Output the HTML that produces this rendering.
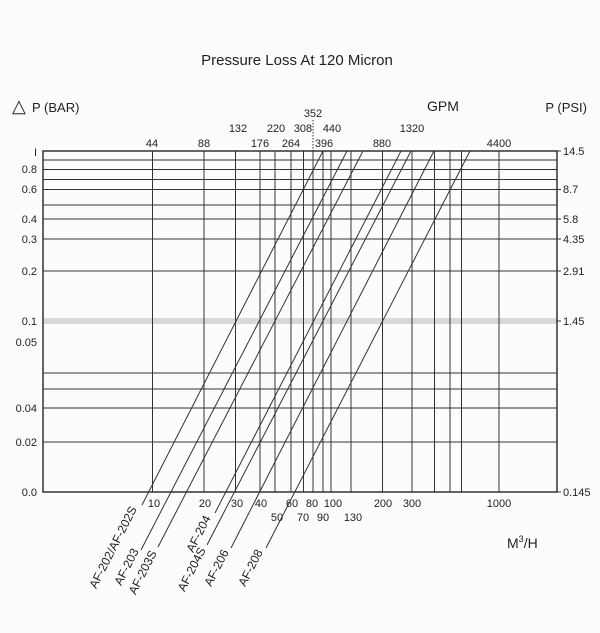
<!DOCTYPE html>
<html><head><meta charset="utf-8"><style>
html,body{margin:0;padding:0;background:#fcfcfc;}
svg{display:block;font-family:"Liberation Sans",sans-serif;}
</style></head><body>
<svg width="600" height="633" viewBox="0 0 600 633" xmlns="http://www.w3.org/2000/svg">
<rect width="600" height="633" fill="#fcfcfc"/>
<text x="297" y="65" font-size="15" text-anchor="middle" fill="#222">Pressure Loss At 120 Micron</text>
<text x="12" y="112" font-size="18" fill="#222">△</text>
<text x="32" y="112" font-size="13" fill="#222">P (BAR)</text>
<text x="443" y="111" font-size="14" text-anchor="middle" fill="#222">GPM</text>
<text x="587" y="112" font-size="13" text-anchor="end" fill="#222">P (PSI)</text>
<rect x="43" y="318" width="514" height="6" fill="#d8d8d8"/>
<g stroke="#333" stroke-width="1" fill="none">
<line x1="43" y1="160" x2="557" y2="160"/>
<line x1="43" y1="169.5" x2="557" y2="169.5"/>
<line x1="43" y1="179.5" x2="557" y2="179.5"/>
<line x1="43" y1="189.5" x2="557" y2="189.5"/>
<line x1="43" y1="205" x2="557" y2="205"/>
<line x1="43" y1="219" x2="557" y2="219"/>
<line x1="43" y1="239" x2="557" y2="239"/>
<line x1="43" y1="271" x2="557" y2="271"/>
<line x1="43" y1="373" x2="557" y2="373"/>
<line x1="43" y1="389" x2="557" y2="389"/>
<line x1="43" y1="408" x2="557" y2="408"/>
<line x1="43" y1="442" x2="557" y2="442"/>
<line x1="152.5" y1="151" x2="152.5" y2="492"/>
<line x1="204" y1="151" x2="204" y2="492"/>
<line x1="235.5" y1="151" x2="235.5" y2="492"/>
<line x1="260" y1="151" x2="260" y2="492"/>
<line x1="275" y1="151" x2="275" y2="492"/>
<line x1="291" y1="151" x2="291" y2="492"/>
<line x1="303.5" y1="151" x2="303.5" y2="492"/>
<line x1="313" y1="151" x2="313" y2="492"/>
<line x1="323" y1="151" x2="323" y2="492"/>
<line x1="331" y1="151" x2="331" y2="492"/>
<line x1="351" y1="151" x2="351" y2="492"/>
<line x1="382.5" y1="151" x2="382.5" y2="492"/>
<line x1="412" y1="151" x2="412" y2="492"/>
<line x1="434.5" y1="151" x2="434.5" y2="492"/>
<line x1="450" y1="151" x2="450" y2="492"/>
<line x1="461.5" y1="151" x2="461.5" y2="492"/>
<line x1="499" y1="151" x2="499" y2="492"/>
<line x1="313" y1="120" x2="313" y2="151" stroke-dasharray="1.5,1.5"/>
<rect x="43" y="151" width="514" height="341" stroke-width="1.5"/>
<line x1="557" y1="151" x2="561" y2="151"/><line x1="557" y1="189.5" x2="561" y2="189.5"/>
<line x1="557" y1="219" x2="561" y2="219"/><line x1="557" y1="239" x2="561" y2="239"/>
<line x1="557" y1="271" x2="561" y2="271"/><line x1="557" y1="321" x2="561" y2="321"/>
<line x1="557" y1="492" x2="561" y2="492"/>
<line x1="323" y1="151" x2="142" y2="505"/>
<line x1="347" y1="151" x2="141" y2="550"/>
<line x1="363" y1="151" x2="158" y2="547"/>
<line x1="401" y1="151" x2="215" y2="513"/>
<line x1="411" y1="151" x2="207" y2="545"/>
<line x1="434" y1="151" x2="231" y2="548"/>
<line x1="470" y1="151" x2="266" y2="548"/>
</g>
<g font-size="11" fill="#222" text-anchor="end">
<text x="37" y="156">I</text><text x="37" y="173">0.8</text><text x="37" y="193">0.6</text>
<text x="37" y="223">0.4</text><text x="37" y="243">0.3</text><text x="37" y="275">0.2</text>
<text x="37" y="325">0.1</text><text x="37" y="346">0.05</text><text x="37" y="412">0.04</text>
<text x="37" y="446">0.02</text><text x="37" y="496">0.0</text>
</g>
<g font-size="11" fill="#222">
<text x="563" y="155">14.5</text><text x="563" y="193">8.7</text><text x="563" y="223">5.8</text>
<text x="563" y="243">4.35</text><text x="563" y="275">2.91</text><text x="563" y="325">1.45</text>
<text x="563" y="496">0.145</text>
</g>
<g font-size="11" fill="#222" text-anchor="middle">
<text x="152" y="147">44</text><text x="204" y="147">88</text><text x="260" y="147">176</text>
<text x="291" y="147">264</text><text x="324" y="147">396</text><text x="382" y="147">880</text><text x="499" y="147">4400</text>
<text x="238" y="132">132</text><text x="276" y="132">220</text><text x="303" y="132">308</text>
<text x="332" y="132">440</text><text x="412" y="132">1320</text><text x="313" y="117">352</text>
<text x="154" y="507">10</text><text x="205" y="507">20</text><text x="237" y="507">30</text>
<text x="261" y="507">40</text><text x="292" y="507">60</text><text x="312" y="507">80</text>
<text x="333" y="507">100</text><text x="383" y="507">200</text><text x="412" y="507">300</text>
<text x="499" y="507">1000</text>
<text x="277" y="521">50</text><text x="303" y="521">70</text><text x="323" y="521">90</text><text x="353" y="521">130</text>
</g>
<text x="507" y="548" font-size="14" fill="#222">M<tspan font-size="9" dy="-6">3</tspan><tspan dy="6">/H</tspan></text>
<g font-size="12" fill="#222" text-anchor="end">
<text transform="translate(137,509) rotate(-63)">AF-202/AF-202S</text>
<text transform="translate(139,551) rotate(-63)">AF-203</text>
<text transform="translate(157,553) rotate(-63)">AF-203S</text>
<text transform="translate(211,518) rotate(-63)">AF-204</text>
<text transform="translate(206,550) rotate(-63)">AF-204S</text>
<text transform="translate(229,552) rotate(-63)">AF-206</text>
<text transform="translate(263,552) rotate(-63)">AF-208</text>
</g>
</svg>
</body></html>
